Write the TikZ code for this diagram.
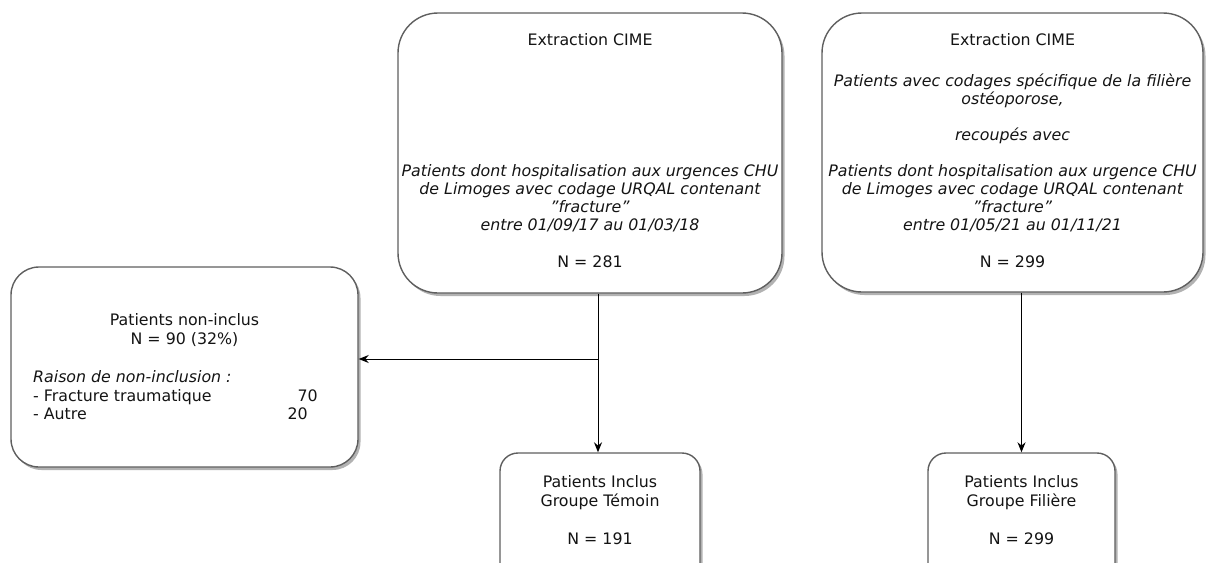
\documentclass[tikz,border=0pt]{standalone}
\usepackage{fontspec}
\setmainfont{DejaVu Sans}
\usetikzlibrary{shadows,arrows.meta}
\definecolor{boxgray}{RGB}{95,95,95}
\definecolor{txtcol}{RGB}{20,20,20}
\newcommand{\dq}{\symbol{34}}
\tikzset{
  box/.style={draw=boxgray, line width=1.4pt, fill=white,
    drop shadow={shadow xshift=2.5pt, shadow yshift=-3pt, opacity=0.3, fill=black}},
  t/.style={anchor=base, inner sep=0pt, text=txtcol, font=\fontsize{15.8}{18.2}\selectfont},
  ti/.style={t, font=\fontsize{15.8}{18.2}\selectfont\itshape},
  tl/.style={t, anchor=base west},
  tli/.style={ti, anchor=base west},
  tr/.style={t, anchor=base east},
  arr/.style={-{Stealth[length=10pt,width=8pt]}, line width=1pt, black}
}
\begin{document}
\begin{tikzpicture}[x=1pt,y=-1pt]
\useasboundingbox (0,0) rectangle (1206,562);
\clip (0,0) rectangle (1206,562);

% boxes
\node[box, rounded corners=40pt, minimum width=384pt, minimum height=280pt] (A) at (590,153) {};
\node[box, rounded corners=40pt, minimum width=381pt, minimum height=279pt] (B) at (1012.5,152.5) {};
\node[box, rounded corners=28pt, minimum width=347pt, minimum height=200pt] (C) at (184.5,367) {};
\node[box, rounded corners=18pt, minimum width=200pt, minimum height=130pt] (D) at (600,518) {};
\node[box, rounded corners=18pt, minimum width=187pt, minimum height=130pt] (E) at (1021.5,518) {};

% box A text
\node[t]  (a1) at (590,45)  {Extraction CIME};
\node[ti] (a2) at (590,176) {Patients dont hospitalisation aux urgences CHU};
\node[ti] (a3) at (590,194) {de Limoges avec codage URQAL contenant};
\node[ti] (a4) at (590,212) {\dq fracture\dq};
\node[ti] (a5) at (590,230) {entre 01/09/17 au 01/03/18};
\node[t]  (a6) at (590,267) {N = 281};

% box B text
\node[t]  (b1) at (1012.5,45)  {Extraction CIME};
\node[ti] (b2) at (1012.5,86)  {Patients avec codages spécifique de la filière};
\node[ti] (b3) at (1012.5,104) {ostéoporose,};
\node[ti] (b4) at (1012.5,140) {recoupés avec};
\node[ti] (b5) at (1012.5,176) {Patients dont hospitalisation aux urgence CHU};
\node[ti] (b6) at (1012.5,194) {de Limoges avec codage URQAL contenant};
\node[ti] (b7) at (1012.5,212) {\dq fracture\dq};
\node[ti] (b8) at (1012.5,230) {entre 01/05/21 au 01/11/21};
\node[t]  (b9) at (1012.5,267) {N = 299};

% box C text
\node[t]   (c1) at (184.5,325) {Patients non-inclus};
\node[t]   (c2) at (184.5,344) {N = 90 (32\%)};
\node[tli] (c3) at (33,382)    {Raison de non-inclusion :};
\node[tl]  (c4) at (33,401)    {- Fracture traumatique};
\node[tr]  (c5) at (318,401)   {70};
\node[tl]  (c6) at (33,419)    {- Autre};
\node[tr]  (c7) at (308,419)   {20};

% box D text
\node[t] (d1) at (600,487) {Patients Inclus};
\node[t] (d2) at (600,506) {Groupe Témoin};
\node[t] (d3) at (600,544) {N = 191};

% box E text
\node[t] (e1) at (1021.5,487) {Patients Inclus};
\node[t] (e2) at (1021.5,506) {Groupe Filière};
\node[t] (e3) at (1021.5,544) {N = 299};

% connectors
\coordinate (split) at (598,359);
\draw[arr] (A.south -| split) -- (D.north -| split);
\draw[arr] (split) -- (split -| C.east);
\draw[arr] (B.south -| E.north) -- (E.north);
\end{tikzpicture}
\end{document}
